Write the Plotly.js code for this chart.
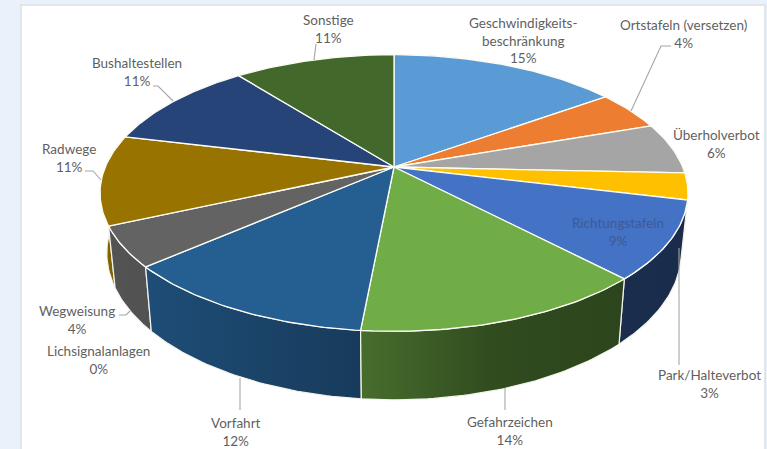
<!DOCTYPE html>
<html>
<head>
<meta charset="utf-8">
<script src="https://cdn.plot.ly/plotly-3.0.1.min.js"></script>
<style>html,body{margin:0;padding:0;background:#e9f2fb}#chart{width:767px;height:449px}</style>
</head>
<body>
<div id="chart"></div>
<script>
// Data
const categories = ["Geschwindigkeits-<br>beschränkung","Ortstafeln (versetzen)","Überholverbot","Park/Halteverbot","Richtungstafeln","Gefahrzeichen","Vorfahrt","Lichsignalanlagen","Wegweisung","Radwege","Bushaltestellen","Sonstige"];
const shares = [15.1,4.6,6.0,3.1,9.1,13.6,12.1,0,4.7,10.5,10.6,10.6];
const percentLabels = [15,4,6,3,9,14,12,0,4,11,11,11];
const colors = ["#5B9BD5","#ED7D31","#A5A5A5","#FFC000","#4472C4","#70AD47","#255E91","#9E480E","#636363","#997300","#264478","#43682B"];

// Label placement (pixel centre of the block), same order as categories
const labelX = [523,683,716,709,618,510,236,98,77,69,137,328];
const labelY = [40,34,144,384,232,431,432,360,320,158,72,29];
const labelColors = ["#5f5f5f","#5f5f5f","#5f5f5f","#5f5f5f","#3e5a94","#5f5f5f","#5f5f5f","#5f5f5f","#5f5f5f","#5f5f5f","#5f5f5f","#5f5f5f"];

// Leader lines
const leaders = [
  [[314,60],[316,44]],
  [[153,86],[158,86],[173,101]],
  [[85,171],[93,171],[101,180]],
  [[671,46],[661,46],[631,111]],
  [[679,248],[679,365]],
  [[505,388],[505,410]],
  [[240,378],[240,410]],
  [[119,315],[126,315],[130,311]]
];

// Perspective projection of the pie disc onto the page
const cx=394, cy=167, A=288.7, B=133.4, k=0.188;
function rim(t){
  const u=Math.sin(t), v=Math.cos(t), w=1+k*v;
  return [cx+A*u/w, cy-B*v/w];
}
function lower(p){
  return [cx+(p[0]-cx)*0.977, 331.5+(p[1]-267)*1.0625];
}
function hex(c){return [1,3,5].map(i=>parseInt(c.substr(i,2),16));}
// Side wall lighting depends on horizontal position
const shadeX=[100,150,361,500,620,690], shadeF=[0.85,0.82,0.63,0.43,0.4,0.38];
function shade(c,x){
  let f=shadeF[shadeF.length-1];
  for(let i=0;i<shadeX.length-1;i++){
    if(x>=shadeX[i]&&x<=shadeX[i+1]){
      f=shadeF[i]+(shadeF[i+1]-shadeF[i])*(x-shadeX[i])/(shadeX[i+1]-shadeX[i]);
    }
  }
  if(x<shadeX[0]) f=shadeF[0];
  const h=hex(c);
  return `rgb(${h.map(a=>Math.round(a*f)).join(",")})`;
}

const total=shares.reduce((a,b)=>a+b,0);
const tops=[], walls=[];
let acc=0;
shares.forEach((s,i)=>{
  const t0=acc/total*2*Math.PI, t1=(acc+s)/total*2*Math.PI;
  acc+=s;
  if(s<=0) return;
  const n=Math.max(2,Math.ceil((t1-t0)*180/Math.PI));
  const arc=[];
  for(let j=0;j<=n;j++) arc.push(rim(t0+(t1-t0)*j/n));
  tops.push({type:"scatter",mode:"lines",x:[cx,...arc.map(p=>p[0]),cx],y:[cy,...arc.map(p=>p[1]),cy],
    fill:"toself",fillcolor:colors[i],line:{color:"#fdfdf5",width:1.3},hoverinfo:"skip",showlegend:false});
  const bot=arc.map(lower).reverse();
  const xs=[...arc.map(p=>p[0]),...bot.map(p=>p[0])];
  const ys=[...arc.map(p=>p[1]),...bot.map(p=>p[1])];
  const xmin=Math.min(...xs), xmax=Math.max(...xs);
  const stops=[];
  for(let j=0;j<=6;j++) stops.push([j/6,shade(colors[i],xmin+(xmax-xmin)*j/6)]);
  walls.push({my:ys.reduce((a,b)=>a+b,0)/ys.length,trace:{type:"scatter",mode:"lines",
    x:[...xs,xs[0]],y:[...ys,ys[0]],fill:"toself",
    fillgradient:{type:"horizontal",colorscale:stops,start:xmin,stop:xmax},
    line:{color:"#f4f4ec",width:1.2},hoverinfo:"skip",showlegend:false}});
});
walls.sort((a,b)=>a.my-b.my);

const annotations=categories.map((c,i)=>({
  x:labelX[i],y:labelY[i],xref:"x",yref:"y",text:`${c}<br>${percentLabels[i]}%`,showarrow:false,
  xanchor:"center",yanchor:"middle",align:"center",
  font:{family:"Lato, 'Noto Sans', sans-serif",size:13.5,color:labelColors[i]}
}));

const shapes=[{type:"rect",xref:"x",yref:"y",x0:21,x1:765,y0:5,y1:452,fillcolor:"#ffffff",line:{color:"#dcdfe3",width:1.5},layer:"below"}];
leaders.forEach(l=>{
  shapes.push({type:"path",xref:"x",yref:"y",path:l.map((p,i)=>(i?"L":"M")+p[0]+" "+p[1]).join(" "),
    line:{color:"#a6a6a6",width:1.1},layer:"above"});
});

Plotly.newPlot("chart",[...walls.map(w=>w.trace),...tops],{
  width:767,height:449,margin:{l:0,r:0,t:0,b:0},
  paper_bgcolor:"#e9f2fb",plot_bgcolor:"rgba(0,0,0,0)",showlegend:false,
  xaxis:{range:[0,767],visible:false,fixedrange:true},
  yaxis:{range:[449,0],visible:false,fixedrange:true},
  annotations,shapes
},{displayModeBar:false,staticPlot:true});
</script>
</body>
</html>
